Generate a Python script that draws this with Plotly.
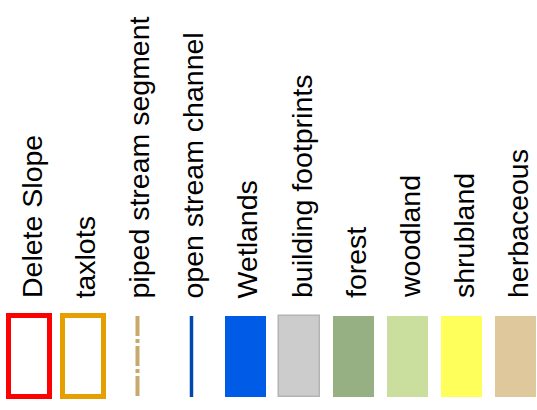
import plotly.graph_objects as go

# Legend entries
labels = ["Delete Slope", "taxlots", "piped stream segment", "open stream channel",
          "Wetlands", "building footprints", "forest", "woodland", "shrubland", "herbaceous"]
kinds = ["outline", "outline", "dashline", "line", "fill", "fill", "fill", "fill", "fill", "fill"]
fill_colors = ["#FFFFFF", "#FFFFFF", None, None, "#005CE6", "#CCCCCC",
               "#96B084", "#CADF9E", "#FFFF5C", "#DFC89B"]
edge_colors = ["#FF0000", "#E69F00", "#C9A86E", "#0048B0", "#005CE6", "#B4B4B4",
               "#96B084", "#CADF9E", "#FFFF5C", "#DFC89B"]
edge_widths = [5, 5, 4, 3.5, 0, 1.5, 0, 0, 0, 0]

# layout constants (pixel-like y axis, reversed)
SW_TOP, SW_BOTTOM = 316, 397
LABEL_BASE = 300
FONT = "Liberation Sans, Arial, Helvetica, sans-serif"

fig = go.Figure()

box_idx = [i for i, k in enumerate(kinds) if k in ("outline", "fill")]
fig.add_trace(go.Bar(
    x=[labels[i] for i in box_idx],
    y=[SW_BOTTOM - SW_TOP] * len(box_idx),
    base=[SW_TOP] * len(box_idx),
    width=0.76,
    marker=dict(color=[fill_colors[i] for i in box_idx],
                line=dict(color=[edge_colors[i] for i in box_idx],
                          width=[edge_widths[i] for i in box_idx])),
    hoverinfo="skip", showlegend=False,
))

for i, k in enumerate(kinds):
    if k in ("line", "dashline"):
        fig.add_trace(go.Scatter(
            x=[labels[i], labels[i]], y=[SW_TOP, SW_BOTTOM], mode="lines",
            line=dict(color=edge_colors[i], width=edge_widths[i],
                      dash="20px,3px,4px,3px" if k == "dashline" else "solid"),
            hoverinfo="skip", showlegend=False,
        ))

for lab in labels:
    fig.add_annotation(x=lab, y=LABEL_BASE, text=lab, textangle=-90, showarrow=False,
                       xanchor="center", yanchor="bottom", xshift=2,
                       font=dict(family=FONT, size=28.5, color="black"))

fig.update_layout(
    width=537, height=410, margin=dict(l=0, r=0, t=0, b=0),
    paper_bgcolor="white", plot_bgcolor="white",
    xaxis=dict(type="category", categoryorder="array", categoryarray=labels,
               range=[-0.546, 9.398], visible=False, fixedrange=True),
    yaxis=dict(range=[410, 0], visible=False, fixedrange=True),
    bargap=0,
)

fig.write_html("out.html", config={"displayModeBar": False},
               post_script="document.body.style.margin='0';")
